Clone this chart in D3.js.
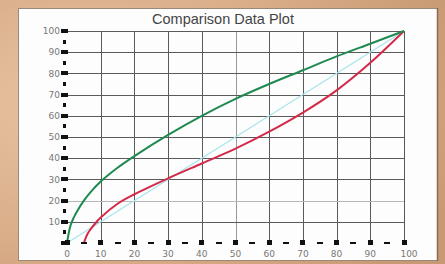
<!DOCTYPE html>
<html>
<head>
<meta charset="utf-8">
<script src="https://cdn.jsdelivr.net/npm/d3@7"></script>
<style>
  html, body { margin: 0; padding: 0; overflow: hidden; }
  svg { display: block; }
</style>
</head>
<body>
<svg id="chart" width="445" height="264"></svg>
<script>
// values
const xTicks = [0, 10, 20, 30, 40, 50, 60, 70, 80, 90, 100];
const yTicks = [10, 20, 30, 40, 50, 60, 70, 80, 90, 100];

const greenX = [0, 1, 2, 3, 5, 7, 10, 15, 20, 30, 40, 50, 60, 70, 80, 90, 100];
const greenY = [0, 8, 12, 15, 20, 24, 29, 35.5, 41, 51, 60, 68, 75, 81.5, 88, 94, 100];

const redX = [5, 6, 7, 8, 10, 15, 20, 30, 40, 50, 60, 70, 80, 90, 100];
const redY = [0, 4, 6.5, 8.5, 12, 18.5, 23, 30.5, 37.5, 44.5, 52.5, 61.5, 72, 85, 100];

const diagX = [0, 100];
const diagY = [0, 100];

const svg = d3.select('#chart');

// tan background
const defs = svg.append('defs');
const bg = defs.append('radialGradient').attr('id', 'bg')
  .attr('cx', '20%').attr('cy', '40%').attr('r', '90%');
bg.append('stop').attr('offset', '0%').attr('stop-color', '#e8c4a4');
bg.append('stop').attr('offset', '60%').attr('stop-color', '#d9ad88');
bg.append('stop').attr('offset', '100%').attr('stop-color', '#c89a74');
svg.append('rect').attr('width', 445).attr('height', 264).attr('fill', 'url(#bg)');

// white panel
svg.append('rect')
  .attr('x', 18.5).attr('y', 8.5).attr('width', 419).attr('height', 252)
  .attr('fill', '#fdfdfd').attr('stroke', '#9a8878').attr('stroke-width', 1);
svg.append('line')
  .attr('x1', 437.5).attr('x2', 437.5).attr('y1', 8).attr('y2', 261)
  .attr('stroke', '#8a6a50').attr('stroke-width', 1.5);

const x = d3.scaleLinear().domain([0, 100]).range([67, 404]);
const y = d3.scaleLinear().domain([0, 100]).range([243, 31]);

// title
svg.append('text')
  .attr('x', 223).attr('y', 24)
  .attr('text-anchor', 'middle')
  .attr('font-family', 'Liberation Sans, Arial, sans-serif')
  .attr('font-size', 14.5)
  .attr('fill', '#444')
  .text('Comparison Data Plot');

// grid
const grid = svg.append('g').attr('stroke-width', 1).attr('shape-rendering', 'crispEdges');
grid.selectAll('line.v').data(xTicks.slice(1)).join('line')
  .attr('x1', d => Math.round(x(d)) + 0.5).attr('x2', d => Math.round(x(d)) + 0.5)
  .attr('y1', y(100)).attr('y2', y(0))
  .attr('stroke', d => d === 50 ? '#9a9a9a' : '#5a5a5a');
grid.selectAll('line.h').data(yTicks).join('line')
  .attr('x1', x(0)).attr('x2', x(100))
  .attr('y1', d => Math.round(y(d)) + 0.5).attr('y2', d => Math.round(y(d)) + 0.5)
  .attr('stroke', d => d === 20 ? '#b8b8b8' : '#5a5a5a');

// curves
const line = d3.line().x(d => x(d[0])).y(d => y(d[1])).curve(d3.curveCatmullRom.alpha(0.5));
const plot = svg.append('g').attr('fill', 'none').attr('stroke-linejoin', 'round');
plot.append('path').datum(d3.zip(diagX, diagY)).attr('d', line)
  .attr('stroke', '#a8e4e8').attr('stroke-width', 1.2);
plot.append('path').datum(d3.zip(redX, redY)).attr('d', line)
  .attr('stroke', '#d42a4a').attr('stroke-width', 2);
plot.append('path').datum(d3.zip(greenX, greenY)).attr('d', line)
  .attr('stroke', '#1f8a50').attr('stroke-width', 2);

// axis ticks: dashed-looking axes made of marks
const ax = svg.append('g').attr('fill', '#111').attr('shape-rendering', 'crispEdges');
const halves = d3.range(5, 100, 10);
// y axis
ax.selectAll('rect.ym').data([0].concat(yTicks)).join('rect')
  .attr('x', 61).attr('y', d => y(d) - 2).attr('width', 7).attr('height', 4);
ax.selectAll('rect.yn').data(halves).join('rect')
  .attr('x', 63).attr('y', d => y(d) - 2).attr('width', 3).attr('height', 4);
// x axis
ax.selectAll('rect.xm').data(xTicks).join('rect')
  .attr('x', d => x(d) - 2.5).attr('y', 240).attr('width', 5).attr('height', 5);
ax.selectAll('rect.xn').data(halves).join('rect')
  .attr('x', d => x(d) - 3).attr('y', 242).attr('width', 6).attr('height', 2);

// tick labels
const lab = svg.append('g')
  .attr('font-family', 'DejaVu Sans, sans-serif')
  .attr('font-size', 9).attr('fill', '#777');
lab.selectAll('text.y').data(yTicks).join('text')
  .attr('x', 60).attr('y', d => y(d) + 3.2)
  .attr('text-anchor', 'end').text(d => d);
lab.selectAll('text.x').data(xTicks).join('text')
  .attr('x', d => x(d) + (d === 100 ? 5 : 0)).attr('y', 257)
  .attr('text-anchor', 'middle').text(d => d);
</script>
</body>
</html>
